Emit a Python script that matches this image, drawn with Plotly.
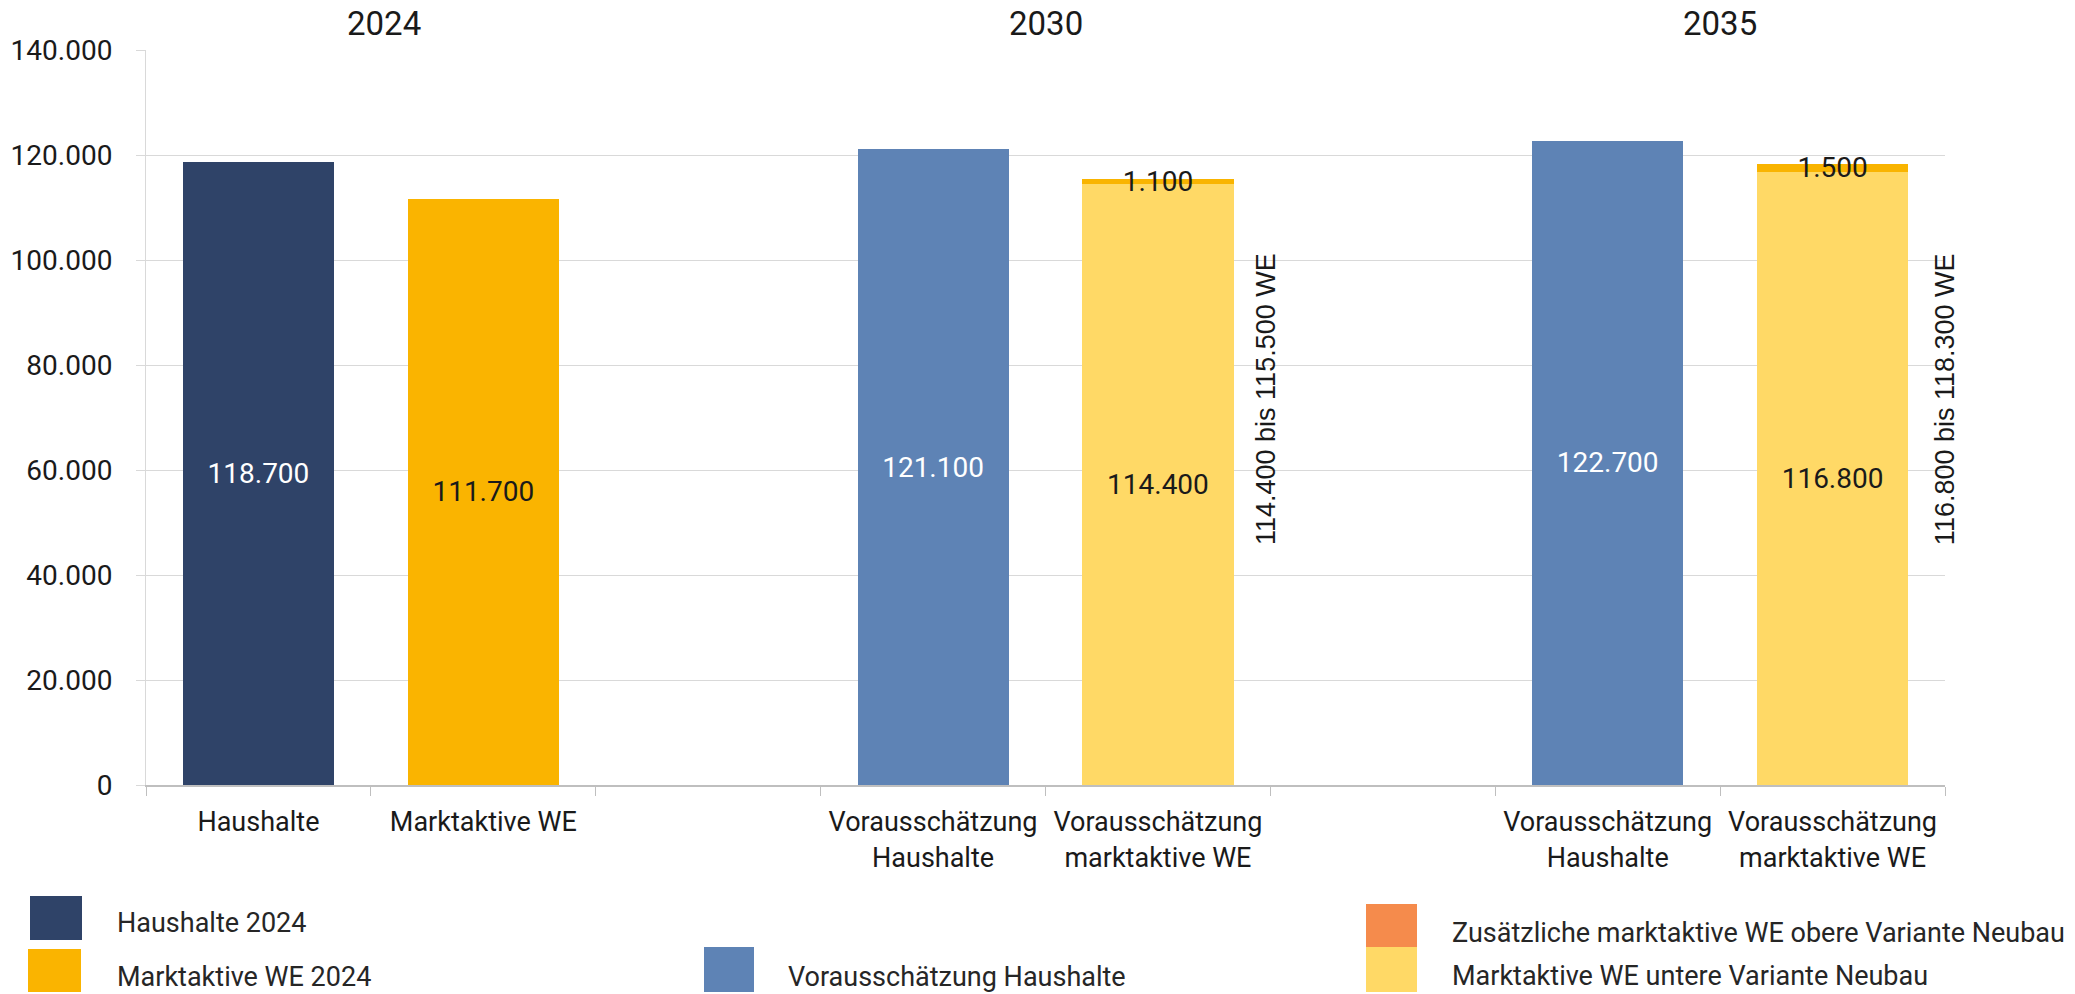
import plotly.graph_objects as go

# ---------------- data ----------------
category_ids = ["k0", "k1", "k2", "k3", "k4", "k5", "k6", "k7"]
category_labels = ["Haushalte", "Marktaktive WE", "",
                   "Vorausschätzung<br>Haushalte", "Vorausschätzung<br>marktaktive WE", "",
                   "Vorausschätzung<br>Haushalte", "Vorausschätzung<br>marktaktive WE"]
year_labels = ["2024", "2030", "2035"]

hh2024_x = ["k0"]
hh2024_y = [118700]
we2024_x = ["k1"]
we2024_y = [111700]
hh_forecast_x = ["k3", "k6"]
hh_forecast_y = [121100, 122700]
we_lower_x = ["k4", "k7"]
we_lower_y = [114400, 116800]
we_extra_x = ["k4", "k7"]
we_extra_y = [1100, 1500]
range_labels = ["114.400 bis 115.500 WE", "116.800 bis 118.300 WE"]

names = ["Haushalte 2024", "Marktaktive WE 2024", "Vorausschätzung Haushalte",
         "Zusätzliche marktaktive WE obere Variante Neubau",
         "Marktaktive WE untere Variante Neubau"]

# ---------------- style ----------------
C_HH24 = "#2F4368"
C_WE24 = "#FAB400"
C_HHF = "#5E83B5"
C_LOW = "#FFD966"
C_EXTRA_BAR = "#F9B400"
C_EXTRA_LEG = "#F58B4C"
FONT = "Roboto, 'Liberation Sans', Arial, sans-serif"
TXT = "#1A1A1A"

W, H = 2075, 994
L, R, T, B = 146, 130, 50, 209
PW, PH = W - L - R, H - T - B


def fmt(v):
    return f"{v:,}".replace(",", ".")


def px(x):
    return (x - L) / PW


def py(y):
    return (H - B - y) / PH


fig = go.Figure()


def add_bar(xs, ys, color, txtcolor, name):
    fig.add_trace(go.Bar(
        x=xs, y=ys, name=name, marker=dict(color=color, line=dict(width=0)),
        text=[fmt(v) for v in ys], textposition="inside", insidetextanchor="middle",
        textangle=0, textfont=dict(color=txtcolor, size=28, family=FONT),
        showlegend=False, cliponaxis=False,
    ))


add_bar(hh2024_x, hh2024_y, C_HH24, "white", names[0])
add_bar(we2024_x, we2024_y, C_WE24, TXT, names[1])
add_bar(hh_forecast_x, hh_forecast_y, C_HHF, "white", names[2])
add_bar(we_lower_x, we_lower_y, C_LOW, TXT, names[4])
add_bar(we_extra_x, we_extra_y, C_EXTRA_BAR, TXT, names[3])

fig.update_layout(
    width=W, height=H,
    margin=dict(l=L, r=R, t=T, b=B, pad=0, autoexpand=False),
    plot_bgcolor="white", paper_bgcolor="white",
    barmode="stack", bargap=0.328,
    separators=",.",
    uniformtext=dict(minsize=28, mode="show"),
    font=dict(family=FONT, size=28, color=TXT),
    showlegend=False,
)

fig.update_xaxes(
    type="category", categoryorder="array", categoryarray=category_ids,
    range=[-0.5, len(category_ids) - 0.5], autorange=False,
    tickmode="array", tickvals=category_ids, ticktext=category_labels,
    tickson="boundaries", ticks="outside", ticklen=9, tickcolor="#BFBFBF", tickwidth=1,
    showline=True, linecolor="#BFBFBF", linewidth=2, tickangle=0, automargin=False,
    showgrid=False, tickfont=dict(size=27, color=TXT, family=FONT),
    ticklabelstandoff=12,
)
fig.update_yaxes(
    range=[0, 140000], autorange=False, dtick=20000, tickformat=",d", automargin=False,
    showgrid=True, gridcolor="#D9D9D9", gridwidth=1,
    showline=True, linecolor="#D9D9D9", linewidth=1,
    ticks="outside", ticklen=9, tickcolor="#D9D9D9",
    zeroline=False, tickfont=dict(size=28, color=TXT, family=FONT),
    ticklabelstandoff=18,
)

# year headings
for xc, lab in zip([0.56, 3.5, 6.5], year_labels):
    fig.add_annotation(x=xc, xref="x", y=1, yref="paper", yshift=27, yanchor="middle",
                       text=lab, showarrow=False, font=dict(size=33, color=TXT, family=FONT))

# rotated range labels
for xc, lab in zip([4.48, 7.5], range_labels):
    fig.add_annotation(x=xc, xref="x", y=73500, yref="y", text=lab, textangle=-90,
                       showarrow=False, xanchor="center", yanchor="middle",
                       font=dict(size=27, color=TXT, family="'Liberation Sans', Arial, sans-serif"))

# manual legend
legend_items = [
    (30, 896, 82, 940, C_HH24, names[0], 115, 923),
    (28, 949, 81, 992, C_WE24, names[1], 115, 977),
    (704, 947, 754, 992, C_HHF, names[2], 786, 977),
    (1366, 904, 1417, 947, C_EXTRA_LEG, names[3], 1450, 933),
    (1366, 947, 1417, 992, C_LOW, names[4], 1450, 976),
]
for x0, y0, x1, y1, col, nm, tx, ty in legend_items:
    fig.add_shape(type="rect", xref="paper", yref="paper",
                  x0=px(x0), x1=px(x1), y0=py(y1), y1=py(y0),
                  fillcolor=col, line=dict(width=0), layer="above")
    fig.add_annotation(x=px(tx), y=py(ty), xref="paper", yref="paper", text=nm,
                       showarrow=False, xanchor="left", yanchor="middle",
                       font=dict(size=27, color="#262626", family=FONT))

fig.write_html("out.html")
